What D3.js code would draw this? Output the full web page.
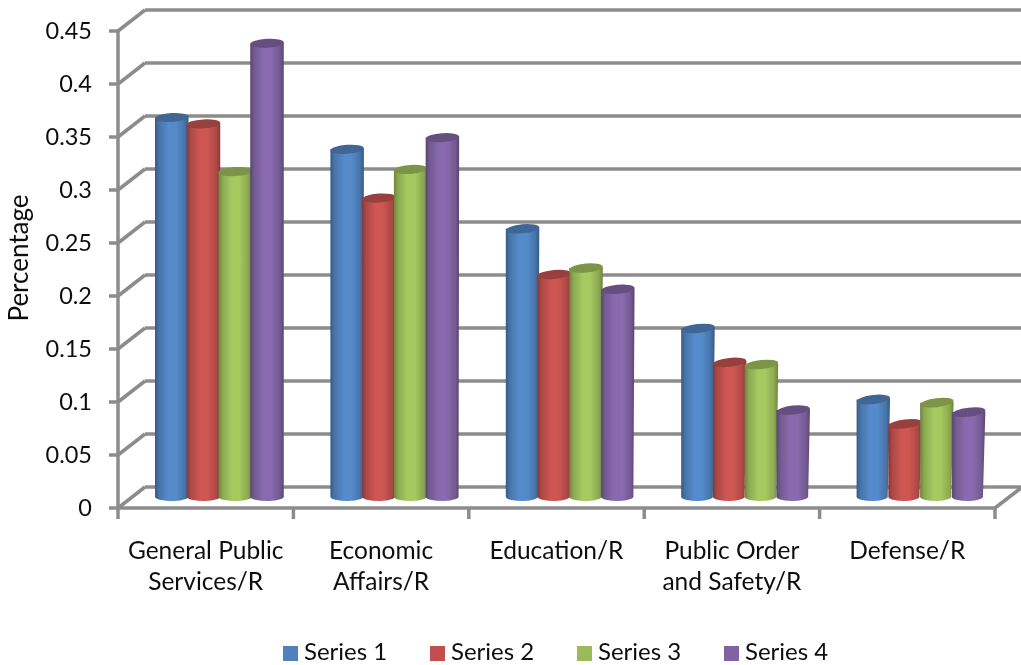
<!DOCTYPE html>
<html><head><meta charset="utf-8">
<script src="https://cdn.jsdelivr.net/npm/d3@7"></script>
<style>html,body{margin:0;padding:0;background:#fff}svg{display:block}text{font-family:Lato,"Open Sans",sans-serif;fill:#111}</style>
</head><body><div id="c"></div>
<script>
const categories=[["General Public","Services/R"],["Economic","Affairs/R"],["Education/R"],["Public Order","and Safety/R"],["Defense/R"]];
const seriesNames=["Series 1","Series 2","Series 3","Series 4"];
const colors=["#4F81BD","#C0504D","#9BBB59","#8064A2"];
const series1=[0.358,0.328,0.253,0.159,0.092];
const series2=[0.352,0.282,0.210,0.127,0.069];
const series3=[0.307,0.309,0.216,0.125,0.089];
const series4=[0.428,0.339,0.196,0.082,0.080];
const allSeries=[series1,series2,series3,series4];
const tickValues=[0,0.05,0.1,0.15,0.2,0.25,0.3,0.35,0.4,0.45];

const W=1021,H=665,grey="#8c8c8c";
const svg=d3.select("#c").append("svg").attr("width",W).attr("height",H);
const defs=svg.append("defs");
colors.forEach((c,i)=>{
  const g=defs.append("linearGradient").attr("id","g"+i);
  const dk=d3.color(c).darker(1.0).formatHex(), md=d3.color(c).darker(0.3).formatHex(), lt=d3.color(c).brighter(0.2).formatHex();
  [[0,dk],[.12,md],[.4,lt],[.62,lt],[.88,md],[1,dk]].forEach(s=>g.append("stop").attr("offset",s[0]).attr("stop-color",s[1]));
});
const soft=defs.append("filter").attr("id","soft").attr("x","-2%").attr("y","-2%").attr("width","104%").attr("height","104%");
soft.append("feGaussianBlur").attr("stdDeviation",0.5);

const root=svg.append("g").attr("filter","url(#soft)");
const y=d3.scaleLinear().domain([0,0.45]).range([508,31]);
const dx=27,dy=-21;
const x=d3.scaleBand().domain(d3.range(categories.length)).range([118,995]);
const inner=d3.scaleBand().domain(d3.range(4)).range([0,127]);
const barBase=497, barY=d3.scaleLinear().domain([0,1]).range([barBase,barBase-1060]);

const grid=root.append("g").attr("stroke",grey).attr("stroke-width",3.5).attr("fill","none");
tickValues.forEach(t=>{
  grid.append("line").attr("x1",118+dx).attr("x2",W).attr("y1",y(t)+dy).attr("y2",y(t)+dy);
  grid.append("line").attr("x1",118).attr("x2",118+dx).attr("y1",y(t)).attr("y2",y(t)+dy);
  grid.append("line").attr("x1",109).attr("x2",118).attr("y1",y(t)).attr("y2",y(t));
});
grid.append("line").attr("x1",118).attr("x2",118).attr("y1",y(0.45)).attr("y2",519);
grid.append("line").attr("x1",118).attr("x2",995).attr("y1",y(0)).attr("y2",y(0));
grid.append("line").attr("x1",995).attr("x2",W).attr("y1",y(0)).attr("y2",y(0)+dy+1);
categories.forEach((c,i)=>grid.append("line").attr("x1",x(i)+x.bandwidth()).attr("x2",x(i)+x.bandwidth()).attr("y1",y(0)).attr("y2",519));

const bars=root.append("g");
categories.forEach((c,gi)=>{
  const left=x(gi)+37;
  allSeries.forEach((vals,si)=>{
    const xl=left+inner(si)*1.0, w=33.5, wb=w-gi*0.6;
    const top=barY(vals[gi]), bot=barBase, ry=4.5;
    const tilt=-(3+gi*1.0);
    const g=bars.append("g");
    g.append("path").attr("fill",`url(#g${si})`)
      .attr("d",`M${xl},${top}L${xl+w},${top-1}L${xl+wb},${bot-1}A${wb/2},${ry} 0 0 1 ${xl},${bot}Z`);
    g.append("ellipse").attr("cx",xl+w/2).attr("cy",top).attr("rx",w/2).attr("ry",ry)
      .attr("transform",`rotate(${tilt} ${xl+w/2} ${top})`)
      .attr("fill",d3.color(colors[si]).darker(0.65).formatHex());
  });
});

const txt=root.append("g");
tickValues.forEach(t=>txt.append("text").attr("x",92).attr("y",y(t)+8).attr("text-anchor","end").attr("font-size",23.5).text(d3.format("~g")(t)));
txt.append("text").attr("transform","translate(28,258) rotate(-90)").attr("text-anchor","middle").attr("font-size",26).text("Percentage");
categories.forEach((c,i)=>{
  const t=txt.append("text").attr("text-anchor","middle").attr("font-size",24.5);
  c.forEach((l,k)=>t.append("tspan").attr("x",x(i)+x.bandwidth()/2).attr("y",559+k*31).text(l));
});
const legendX=d3.scalePoint().domain(seriesNames).range([283,724]);
seriesNames.forEach((s,i)=>{
  txt.append("rect").attr("x",legendX(s)).attr("y",646).attr("width",15).attr("height",15).attr("fill",colors[i]);
  txt.append("text").attr("x",legendX(s)+21).attr("y",660).attr("font-size",24).text(s);
});
</script></body></html>
